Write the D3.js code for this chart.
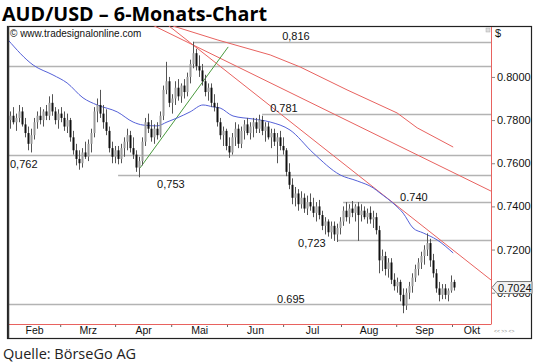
<!DOCTYPE html>
<html>
<head>
<meta charset="utf-8">
<script src="https://cdn.jsdelivr.net/npm/d3@7"></script>
<style>
  body { margin: 0; background: #fff; }
  svg { display: block; }
  .lbl { font-family: "Liberation Sans", Arial, sans-serif; font-size: 11px; fill: #111; }
</style>
</head>
<body>
<div id="chart"></div>
<script>
// daily candles, [open, high, low, close]
var ohlc = [
  [.780,.784,.776,.782],[.782,.786,.778,.779],[.779,.783,.775,.781],[.781,.787,.779,.784],
  [.784,.786,.777,.778],[.778,.781,.772,.774],[.774,.777,.766,.769],[.769,.776,.765,.773],
  [.773,.781,.771,.779],[.779,.784,.776,.782],[.782,.786,.778,.780],[.780,.785,.777,.784],
  [.784,.787,.780,.782],[.782,.791,.780,.788],[.788,.792,.782,.784],[.784,.786,.778,.780],
  [.780,.785,.776,.783],[.783,.786,.779,.781],[.781,.784,.775,.777],[.777,.783,.774,.780],
  [.780,.781,.770,.772],[.772,.775,.764,.766],[.766,.769,.759,.762],[.762,.766,.757,.760],
  [.760,.767,.758,.765],[.765,.770,.762,.763],[.763,.771,.761,.769],[.769,.776,.765,.774],
  [.774,.786,.772,.784],[.784,.790,.779,.787],[.787,.794,.781,.783],[.783,.787,.776,.779],
  [.779,.785,.773,.775],[.775,.777,.765,.767],[.767,.770,.760,.763],[.763,.768,.760,.766],
  [.766,.768,.7595,.762],[.762,.769,.760,.767],[.767,.772,.763,.770],[.770,.776,.766,.773],
  [.773,.775,.765,.767],[.767,.772,.762,.764],[.764,.766,.756,.758],[.758,.763,.7535,.761],
  [.761,.772,.759,.770],[.770,.781,.768,.779],[.779,.783,.774,.776],[.776,.780,.770,.772],
  [.772,.778,.769,.776],[.776,.779,.771,.773],[.773,.784,.772,.782],[.782,.796,.780,.794],
  [.794,.807,.792,.798],[.798,.800,.786,.788],[.788,.792,.783,.790],[.790,.798,.787,.795],
  [.795,.799,.789,.791],[.791,.797,.788,.796],[.796,.799,.790,.793],[.793,.802,.791,.800],
  [.800,.808,.797,.806],[.806,.8163,.804,.811],[.811,.813,.803,.805],[.805,.810,.800,.803],
  [.803,.806,.796,.798],[.798,.801,.791,.793],[.793,.797,.789,.795],[.795,.797,.786,.788],
  [.788,.792,.784,.786],[.786,.788,.777,.779],[.779,.781,.771,.773],[.773,.777,.768,.775],
  [.775,.776,.766,.768],[.768,.772,.7625,.765],[.765,.774,.764,.772],[.772,.779,.768,.776],
  [.776,.778,.767,.769],[.769,.777,.767,.775],[.775,.780,.771,.778],[.778,.781,.773,.774],
  [.774,.779,.771,.777],[.777,.781,.772,.779],[.779,.781,.774,.776],[.776,.7825,.774,.780],
  [.780,.782,.773,.775],[.775,.779,.770,.777],[.777,.779,.771,.772],[.772,.776,.767,.774],
  [.774,.776,.768,.770],[.770,.774,.760,.772],[.772,.775,.766,.768],[.768,.772,.764,.766],
  [.766,.767,.754,.756],[.756,.760,.748,.750],[.750,.753,.741,.744],[.744,.749,.740,.746],
  [.746,.748,.738,.741],[.741,.747,.739,.744],[.744,.746,.737,.739],[.739,.745,.736,.742],
  [.742,.746,.738,.740],[.740,.744,.735,.737],[.737,.742,.733,.740],[.740,.743,.734,.736],
  [.736,.738,.729,.731],[.731,.735,.727,.733],[.733,.734,.726,.728],[.728,.733,.725,.731],
  [.731,.733,.724,.727],[.727,.732,.7235,.730],[.730,.735,.727,.733],[.733,.740,.731,.738],
  [.738,.742,.733,.735],[.735,.741,.732,.739],[.739,.7425,.735,.737],[.737,.741,.733,.740],
  [.740,.742,.724,.736],[.736,.741,.733,.738],[.738,.740,.734,.735],[.735,.739,.732,.737],
  [.737,.740,.732,.734],[.734,.738,.730,.735],[.735,.737,.727,.729],[.729,.731,.709,.715],
  [.715,.720,.710,.717],[.717,.719,.708,.711],[.711,.716,.707,.714],[.714,.716,.704,.706],
  [.706,.709,.701,.703],[.703,.707,.700,.705],[.705,.706,.696,.699],[.699,.702,.6905,.694],
  [.694,.702,.692,.700],[.700,.705,.697,.703],[.703,.709,.700,.707],[.707,.713,.705,.711],
  [.711,.716,.708,.714],[.714,.719,.711,.717],[.717,.722,.713,.720],[.720,.7275,.717,.723],
  [.723,.725,.712,.715],[.715,.718,.707,.709],[.709,.711,.700,.702],[.702,.705,.696,.699],
  [.699,.704,.697,.702],[.702,.704,.697,.699],[.699,.702,.696,.701],[.701,.708,.700,.705],
  [.705,.706,.701,.7024]
];

// moving average (blue), [candle index, value]
var maLine = [
  [-0.7,.8172],[7.7,.8055],[14.3,.8009],[19,.7972],[24.3,.7903],[29,.7870],[35.7,.7838],
  [41,.7791],[44.3,.7777],[49,.7773],[52.3,.7791],[55.7,.7810],[60,.7838],[64.3,.7870],
  [67.7,.7861],[70,.7856],[74.3,.7819],[81,.7805],[86.7,.7791],[93.3,.7754],[101,.7648],
  [110,.7546],[115.7,.7518],[121,.7486],[123.3,.7462],[128.3,.7407],[131,.7369],
  [134.3,.7300],[137.7,.7277],[142.3,.7245],[147.7,.7184]
];

// upper red band
var bandLine = [
  [54.3,.8236],[69,.8172],[86.7,.8102],[96.7,.8046],[112.3,.7940],[129,.7833],
  [135.7,.7764],[147.7,.7675]
];

// straight trend lines [i1, v1, i2, v2]
var redTrends = [[61,.8148,160.3,.7471],[61,.8148,160.3,.7059]];
var greenTrend = [43.3,.7578,72.7,.8139];

// horizontal levels: value, label, start index, label index, label side
var levelValues = [.816, .805, .783, .7638, .7546, .742, .7244, .6948];
var levelLabels = ["0,816", "", "0.781", "0,762", "0,753", "0.740", "0,723", "0.695"];
var levelStart  = [61, -0.7, 84, -0.7, 36, 111, 109, -0.7];
var levelLabelX = [90.7, 0, 86.7, 0, 49, 130, 96, 89];
var levelLabelDy = [-2.5, 0, -3, 12, 12, -2, 6, -2];

var priceTicks = [0.70, 0.72, 0.74, 0.76, 0.78, 0.80];
var lastPrice = 0.7024;

var monthNames = ["Feb", "Mrz", "Apr", "Mai", "Jun", "Jul", "Aug", "Sep", "Okt"];
var monthBounds = [-0.7, 16.7, 35, 53.7, 72.3, 91, 110.3, 128.7, 147.3, 160.3];

var W = 540, H = 364;
var svg = d3.select("#chart").append("svg")
    .attr("width", W).attr("height", H);

var x = d3.scaleLinear().domain([-0.7, 160.3]).range([8, 491]);
var y = d3.scaleLinear().domain([0.6855, 0.8236]).range([324, 26]);

// title
svg.append("text")
    .attr("x", 2).attr("y", 21)
    .style("font-family", "'Open Sans', sans-serif")
    .style("font-weight", 700)
    .style("font-size", "19px")
    .attr("textLength", 265)
    .attr("lengthAdjust", "spacingAndGlyphs")
    .text("AUD/USD – 6-Monats-Chart");

svg.append("text")
    .attr("x", 3).attr("y", 359)
    .style("font-family", "'Open Sans', sans-serif")
    .style("font-size", "14.5px")
    .style("fill", "#222")
    .text("Quelle: BörseGo AG");

// frame
svg.append("rect")
    .attr("x", 7.5).attr("y", 26.5).attr("width", 524).attr("height", 312)
    .attr("fill", "#fff").attr("stroke", "#222").attr("stroke-width", 1.2);

svg.append("defs").append("clipPath").attr("id", "plot")
  .append("rect").attr("x", 8).attr("y", 26).attr("width", 483).attr("height", 298);

var plot = svg.append("g").attr("clip-path", "url(#plot)");

// horizontal levels
levelValues.forEach(function(v, k) {
  var yy = Math.round(y(v)) + 0.5;
  plot.append("line")
      .attr("x1", x(levelStart[k])).attr("x2", 491)
      .attr("y1", yy).attr("y2", yy)
      .attr("stroke", "#b3b3b3").attr("stroke-width", 1.5);
  if (levelLabels[k]) {
    svg.append("text").attr("class", "lbl")
        .attr("x", levelLabelX[k] === 0 ? 10 : x(levelLabelX[k]))
        .attr("y", yy + levelLabelDy[k])
        .text(levelLabels[k]);
  }
});

// red trend lines + band
var lineGen = d3.line().x(function(d) { return x(d[0]); }).y(function(d) { return y(d[1]); });
redTrends.forEach(function(t) {
  var slope = (t[3] - t[1]) / (t[2] - t[0]);
  var x0 = -0.7;
  plot.append("path")
      .attr("d", lineGen([[x0, t[1] + slope * (x0 - t[0])], [t[2], t[3]]]))
      .attr("fill", "none").attr("stroke", "#e8625f").attr("stroke-width", 1);
});
plot.append("path")
    .attr("d", lineGen.curve(d3.curveLinear)(bandLine))
    .attr("fill", "none").attr("stroke", "#e8625f").attr("stroke-width", 1);

// green trend
plot.append("path")
    .attr("d", lineGen([[greenTrend[0], greenTrend[1]], [greenTrend[2], greenTrend[3]]]))
    .attr("fill", "none").attr("stroke", "#4a9a3e").attr("stroke-width", 1);

// moving average
plot.append("path")
    .attr("d", d3.line().curve(d3.curveMonotoneX)
      .x(function(d) { return x(d[0]); }).y(function(d) { return y(d[1]); })(maLine))
    .attr("fill", "none").attr("stroke", "#5561d8").attr("stroke-width", 1);

// candles
var candle = plot.selectAll(".c").data(ohlc).enter().append("g").attr("class", "c");
candle.append("line")
    .attr("x1", function(d, i) { return Math.round(x(i)) + 0.5; })
    .attr("x2", function(d, i) { return Math.round(x(i)) + 0.5; })
    .attr("y1", function(d) { return y(d[1]); })
    .attr("y2", function(d) { return y(d[2]); })
    .attr("stroke", "#555").attr("stroke-width", 1);
candle.append("rect")
    .attr("x", function(d, i) { return Math.round(x(i)) - 0.5; })
    .attr("width", 2)
    .attr("y", function(d) { return y(Math.max(d[0], d[3])); })
    .attr("height", function(d) { return Math.max(1, Math.abs(y(d[0]) - y(d[3]))); })
    .attr("fill", function(d) { return d[3] < d[0] ? "#111" : "#9a9a9a"; });

// right axis
var yAxis = svg.append("g")
    .attr("transform", "translate(491,0)")
    .call(d3.axisRight(y).tickValues(priceTicks).tickFormat(d3.format(".4f")).tickSize(4).tickPadding(2));
yAxis.select(".domain").remove();
yAxis.selectAll("line").attr("stroke", "#888");
yAxis.selectAll("text").style("font-family", "'Liberation Sans', Arial, sans-serif").style("font-size", "11px").attr("fill", "#111");

svg.append("line").attr("x1", 491.5).attr("x2", 491.5).attr("y1", 27).attr("y2", 324)
    .attr("stroke", "#e8625f").attr("stroke-width", 1);
svg.append("line").attr("x1", 8).attr("x2", 491.5).attr("y1", 324.5).attr("y2", 324.5)
    .attr("stroke", "#e8625f").attr("stroke-width", 1);
svg.append("line").attr("x1", 8.5).attr("x2", 8.5).attr("y1", 26).attr("y2", 338)
    .attr("stroke", "#333").attr("stroke-width", 1.5);

// bottom axis: month boundary ticks and centred names
var xTicks = svg.append("g").attr("transform", "translate(0,325)")
    .call(d3.axisBottom(x).tickValues(monthBounds.slice(1, 9)).tickFormat("").tickSize(2));
xTicks.select(".domain").remove();
xTicks.selectAll("line").attr("stroke", "#666");

var mids = monthNames.map(function(m, k) { return (monthBounds[k] + monthBounds[k + 1]) / 2; });
var xLab = svg.append("g").attr("transform", "translate(0,326)")
    .call(d3.axisBottom(x).tickValues(mids).tickSize(0).tickPadding(1)
      .tickFormat(function(d, k) { return monthNames[k]; }));
xLab.select(".domain").remove();
xLab.selectAll("text").style("font-family", "'Liberation Sans', Arial, sans-serif").style("font-size", "10.5px").attr("fill", "#111");

// last price tag
var ty = y(lastPrice);
svg.append("path")
    .attr("d", "M492," + ty + " L497," + (ty - 6) + " L532," + (ty - 6) + " L532," + (ty + 6) + " L497," + (ty + 6) + " Z")
    .attr("fill", "#f2f2f2").attr("stroke", "#777").attr("stroke-width", 1);
svg.append("text").attr("class", "lbl").attr("x", 498).attr("y", ty + 4).text(d3.format(".4f")(lastPrice));

// small labels
svg.append("text").attr("class", "lbl").attr("x", 495).attr("y", 37).text("$");
svg.append("rect").attr("x", 486).attr("y", 28).attr("width", 4).attr("height", 4)
    .attr("fill", "#ddd").attr("stroke", "#aaa").attr("stroke-width", 0.5);
svg.append("text").attr("x", 494).attr("y", 333)
    .style("font-family", "'Liberation Sans', Arial, sans-serif").style("font-size", "5px").attr("fill", "#888")
    .text("<<  >>  <>");

svg.append("text")
    .attr("x", 10).attr("y", 37)
    .style("font-family", "'Liberation Sans', Arial, sans-serif")
    .style("font-size", "10px").attr("fill", "#111")
    .text("© www.tradesignalonline.com");
</script>
</body>
</html>
